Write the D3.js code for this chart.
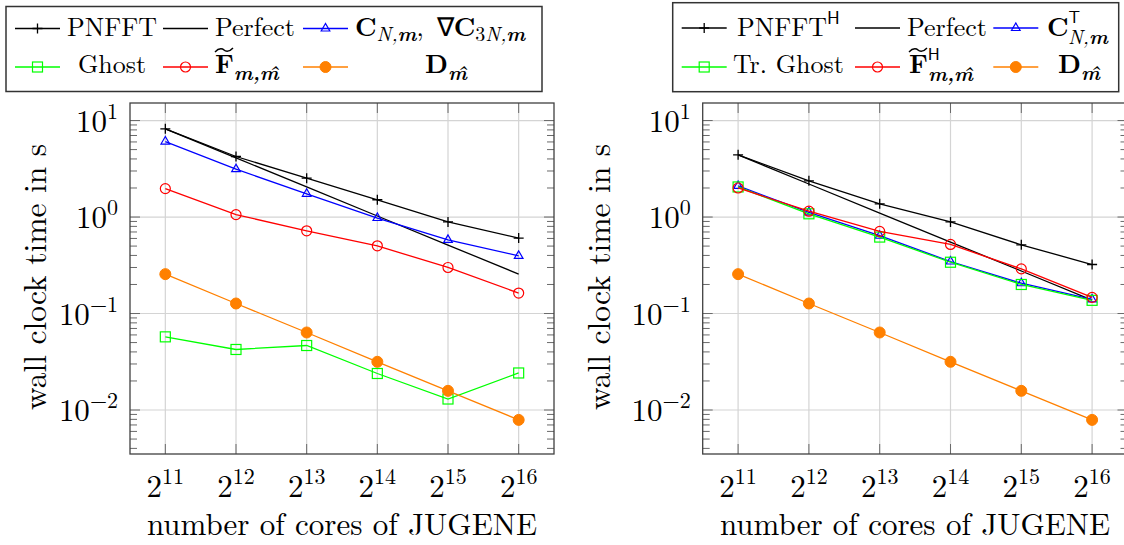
<!DOCTYPE html>
<html>
<head>
<meta charset="utf-8">
<script src="https://cdn.jsdelivr.net/npm/d3@7"></script>
<style>
  body { margin: 0; background: #fff; }
  svg { display: block; }
</style>
</head>
<body>
<svg id="chart" width="1124" height="545"></svg>
<script>
// x values: number of cores (2^11 .. 2^16)
const cores = [2048, 4096, 8192, 16384, 32768, 65536];
const xTickLabels = [['2', '11'], ['2', '12'], ['2', '13'], ['2', '14'], ['2', '15'], ['2', '16']];
const yTicks = [10, 1, 0.1, 0.01];
const yTickLabels = [['10', '1'], ['10', '0'], ['10', '\u22121'], ['10', '\u22122']];

// left panel (forward transform)
const pnfftLeft   = [8.2, 4.24, 2.53, 1.51, 0.89, 0.605];
const perfectLeft = [8.2, 4.1, 2.05, 1.025, 0.5125, 0.256];
const convLeft    = [6.06, 3.13, 1.74, 0.977, 0.58, 0.396];
const ghostLeft   = [0.0573, 0.0424, 0.0466, 0.0239, 0.013, 0.0242];
const fftLeft     = [1.97, 1.06, 0.72, 0.503, 0.30, 0.163];
const diagLeft    = [0.256, 0.127, 0.0636, 0.0316, 0.0158, 0.0079];

// right panel (adjoint transform)
const pnfftRight   = [4.41, 2.37, 1.37, 0.89, 0.515, 0.322];
const perfectRight = [4.41, 2.2, 1.1, 0.55, 0.276, 0.138];
const convRight    = [2.1, 1.12, 0.64, 0.346, 0.206, 0.14];
const ghostRight   = [2.05, 1.08, 0.62, 0.34, 0.2, 0.137];
const fftRight     = [2.0, 1.15, 0.71, 0.52, 0.29, 0.147];
const diagRight    = [0.256, 0.127, 0.0636, 0.0316, 0.0158, 0.0079];

const SERIF = '"Latin Modern Roman", "Liberation Serif", serif';
const SANS = '"Latin Modern Sans", "Liberation Sans", sans-serif';
const svg = d3.select('#chart');
const MS = 5; // mark size

function drawMarker(g, type, color, x, y) {
  if (type === 'plus') {
    g.append('path').attr('d', `M${x - MS},${y}H${x + MS}M${x},${y - MS}V${y + MS}`)
      .attr('stroke', color).attr('stroke-width', 1.3).attr('fill', 'none');
  } else if (type === 'triangle') {
    const h = 0.866 * MS;
    g.append('path').attr('d', `M${x},${y - MS}L${x - h},${y + MS / 2}L${x + h},${y + MS / 2}Z`)
      .attr('stroke', color).attr('stroke-width', 1.2).attr('fill', 'none');
  } else if (type === 'square') {
    g.append('rect').attr('x', x - MS).attr('y', y - MS).attr('width', 2 * MS).attr('height', 2 * MS)
      .attr('stroke', color).attr('stroke-width', 1.2).attr('fill', 'none');
  } else if (type === 'circle') {
    g.append('circle').attr('cx', x).attr('cy', y).attr('r', MS)
      .attr('stroke', color).attr('stroke-width', 1.2).attr('fill', 'none');
  } else if (type === 'dot') {
    g.append('circle').attr('cx', x).attr('cy', y).attr('r', MS + 0.5)
      .attr('stroke', color).attr('stroke-width', 1).attr('fill', color);
  }
}

// text with tspans: parts = [text, {b, i, s, dy, x, sans}]
function richText(g, x, y, size, parts, anchor) {
  const t = g.append('text').attr('x', x).attr('y', y).attr('font-size', size)
    .style('font-family', SERIF).attr('fill', '#000')
    .attr('text-anchor', anchor || 'start');
  parts.forEach(p => {
    const o = p[1] || {};
    const ts = t.append('tspan').text(p[0]);
    if (o.b) ts.attr('font-weight', 'bold');
    if (o.i) ts.attr('font-style', 'italic');
    if (o.s) ts.attr('font-size', o.s);
    if (o.dy) ts.attr('dy', o.dy);
    if (o.x !== undefined) ts.attr('x', o.x);
    if (o.sans) ts.style('font-family', SANS);
  });
  return t;
}

function tilde(g, x, y, w) {
  g.append('path')
    .attr('d', `M${x},${y + 2} C${x + w * 0.25},${y - 3} ${x + w * 0.45},${y - 1} ${x + w * 0.5},${y} S${x + w * 0.75},${y + 3} ${x + w},${y - 2}`)
    .attr('stroke', '#000').attr('stroke-width', 1.4).attr('fill', 'none');
}

function drawPanel(cfg) {
  const g = svg.append('g');
  const x = d3.scaleLog().base(2).domain([Math.pow(2, 10.5), Math.pow(2, 16.5)]).range([cfg.left, cfg.right]);
  const y = d3.scaleLog().domain([0.0035, 15.2]).range([454, 103]);
  const [x0, x1] = x.range();
  const [y0, y1] = y.range();

  // grid
  g.selectAll('.gx').data(cores).enter().append('line')
    .attr('x1', d => x(d)).attr('x2', d => x(d)).attr('y1', y0).attr('y2', y1)
    .attr('stroke', '#d4d4d4').attr('stroke-width', 1.2);
  g.selectAll('.gy').data(yTicks).enter().append('line')
    .attr('x1', x0).attr('x2', x1).attr('y1', d => y(d)).attr('y2', d => y(d))
    .attr('stroke', '#d4d4d4').attr('stroke-width', 1.2);

  // ticks
  const minor = y.ticks().filter(v => yTicks.indexOf(v) < 0 && Math.abs(Math.log10(v) % 1) > 1e-6);
  const tickG = g.append('g').attr('stroke', '#6a6a6a').attr('stroke-width', 1);
  minor.forEach(v => {
    tickG.append('line').attr('x1', x0).attr('x2', x0 + 7).attr('y1', y(v)).attr('y2', y(v));
    tickG.append('line').attr('x1', x1).attr('x2', x1 - 7).attr('y1', y(v)).attr('y2', y(v));
  });
  yTicks.forEach(v => {
    tickG.append('line').attr('x1', x0).attr('x2', x0 + 10).attr('y1', y(v)).attr('y2', y(v));
    tickG.append('line').attr('x1', x1).attr('x2', x1 - 10).attr('y1', y(v)).attr('y2', y(v));
  });
  cores.forEach(v => {
    tickG.append('line').attr('x1', x(v)).attr('x2', x(v)).attr('y1', y0).attr('y2', y0 - 10);
    tickG.append('line').attr('x1', x(v)).attr('x2', x(v)).attr('y1', y1).attr('y2', y1 + 10);
  });

  // frame
  g.append('rect').attr('x', x0).attr('y', y1).attr('width', x1 - x0).attr('height', y0 - y1)
    .attr('fill', 'none').attr('stroke', '#404040').attr('stroke-width', 1.3);

  // tick labels
  yTicks.forEach((v, i) => {
    richText(g, x0 - 12, y(v) + 11, 31, [[yTickLabels[i][0]], [yTickLabels[i][1], { s: 22, dy: -13 }]], 'end');
  });
  cores.forEach((v, i) => {
    richText(g, x(v), 497, 31, [[xTickLabels[i][0]], [xTickLabels[i][1], { s: 22, dy: -13 }]], 'middle');
  });

  // axis labels
  richText(g, 0, 0, 31.5, [['wall clock time in s']], 'middle')
    .attr('transform', `translate(${cfg.ylabelX},277) rotate(-90)`);
  richText(g, (x0 + x1) / 2, 535, 31, [['number of cores of JUGENE']], 'middle');

  // series
  const line = d3.line().x((d, i) => x(cores[i])).y(d => y(d));
  cfg.series.forEach(s => {
    g.append('path').attr('d', line(s.values)).attr('fill', 'none')
      .attr('stroke', s.color).attr('stroke-width', 1.3);
    if (s.marker) s.values.forEach((v, i) => drawMarker(g, s.marker, s.color, x(cores[i]), y(v)));
  });

  // legend
  const lg = svg.append('g');
  const L = cfg.legend;
  lg.append('rect').attr('x', L.box[0]).attr('y', L.box[1]).attr('width', L.box[2]).attr('height', L.box[3])
    .attr('fill', '#fff').attr('stroke', '#333').attr('stroke-width', 1.5);
  cfg.series.forEach((s, i) => {
    const row = i < 3 ? 0 : 1;
    const col = i % 3;
    const ly = L.rowY[row];
    const lx = L.colX[col];
    lg.append('line').attr('x1', lx).attr('x2', lx + 45).attr('y1', ly).attr('y2', ly)
      .attr('stroke', s.color).attr('stroke-width', 1.3);
    if (s.marker) drawMarker(lg, s.marker, s.color, lx + 22.5, ly);
    s.label(lg, ly + (row === 0 ? 7.5 : 6));
  });
}

drawPanel({
  left: 130, right: 554, ylabelX: 46,
  series: [
    { values: pnfftLeft, color: '#000', marker: 'plus',
      label: (g, b) => richText(g, 67, b, 26, [['PNFFT']]) },
    { values: perfectLeft, color: '#000', marker: null,
      label: (g, b) => richText(g, 215, b, 26, [['Perfect']]) },
    { values: convLeft, color: '#0000ff', marker: 'triangle',
      label: (g, b) => richText(g, 355, b, 26, [['C', { b: true }], ['N,', { i: true, s: 20, dy: 5 }], ['m', { b: true, i: true, s: 20 }],
        [',\u2002\u2207', { dy: -5 }], ['C', { b: true }], ['3', { s: 20, dy: 5 }], ['N,', { i: true, s: 20 }], ['m', { b: true, i: true, s: 20 }]]) },
    { values: ghostLeft, color: '#00ff00', marker: 'square',
      label: (g, b) => richText(g, 112, b, 26, [['Ghost']], 'middle') },
    { values: fftLeft, color: '#ff0000', marker: 'circle',
      label: (g, b) => { richText(g, 215, b, 26, [['F', { b: true }], ['m,m\u0302', { b: true, i: true, s: 20, dy: 7 }]]); tilde(g, 215, b - 23, 18); } },
    { values: diagLeft, color: '#ff8000', marker: 'dot',
      label: (g, b) => richText(g, 446, b, 26, [['D', { b: true }], ['m\u0302', { b: true, i: true, s: 20, dy: 7 }]], 'middle') }
  ],
  legend: { box: [6, 6.5, 536, 85], rowY: [28.5, 67], colX: [15, 163, 303] }
});

drawPanel({
  left: 702.7, right: 1127.5, ylabelX: 610,
  series: [
    { values: pnfftRight, color: '#000', marker: 'plus',
      label: (g, b) => richText(g, 737, b, 26, [['PNFFT'], ['H', { sans: true, s: 18, dy: -12 }]]) },
    { values: perfectRight, color: '#000', marker: null,
      label: (g, b) => richText(g, 907, b, 26, [['Perfect']]) },
    { values: convRight, color: '#0000ff', marker: 'triangle',
      label: (g, b) => richText(g, 1047, b, 26, [['C', { b: true }], ['T', { sans: true, s: 17, dy: -13 }], ['N,', { i: true, s: 20, dy: 21, x: 1068 }], ['m', { b: true, i: true, s: 20 }]]) },
    { values: ghostRight, color: '#00ff00', marker: 'square',
      label: (g, b) => richText(g, 733, b, 26, [['Tr. Ghost']]) },
    { values: fftRight, color: '#ff0000', marker: 'circle',
      label: (g, b) => { richText(g, 909, b, 26, [['F', { b: true }], ['H', { sans: true, s: 17, dy: -13 }], ['m,m\u0302', { b: true, i: true, s: 20, dy: 21, x: 928 }]]); tilde(g, 909, b - 23, 18); } },
    { values: diagRight, color: '#ff8000', marker: 'dot',
      label: (g, b) => richText(g, 1079, b, 26, [['D', { b: true }], ['m\u0302', { b: true, i: true, s: 20, dy: 7 }]], 'middle') }
  ],
  legend: { box: [672.7, 2.7, 446, 89], rowY: [28, 67], colX: [681.7, 855, 993.3] }
});
</script>
</body>
</html>
